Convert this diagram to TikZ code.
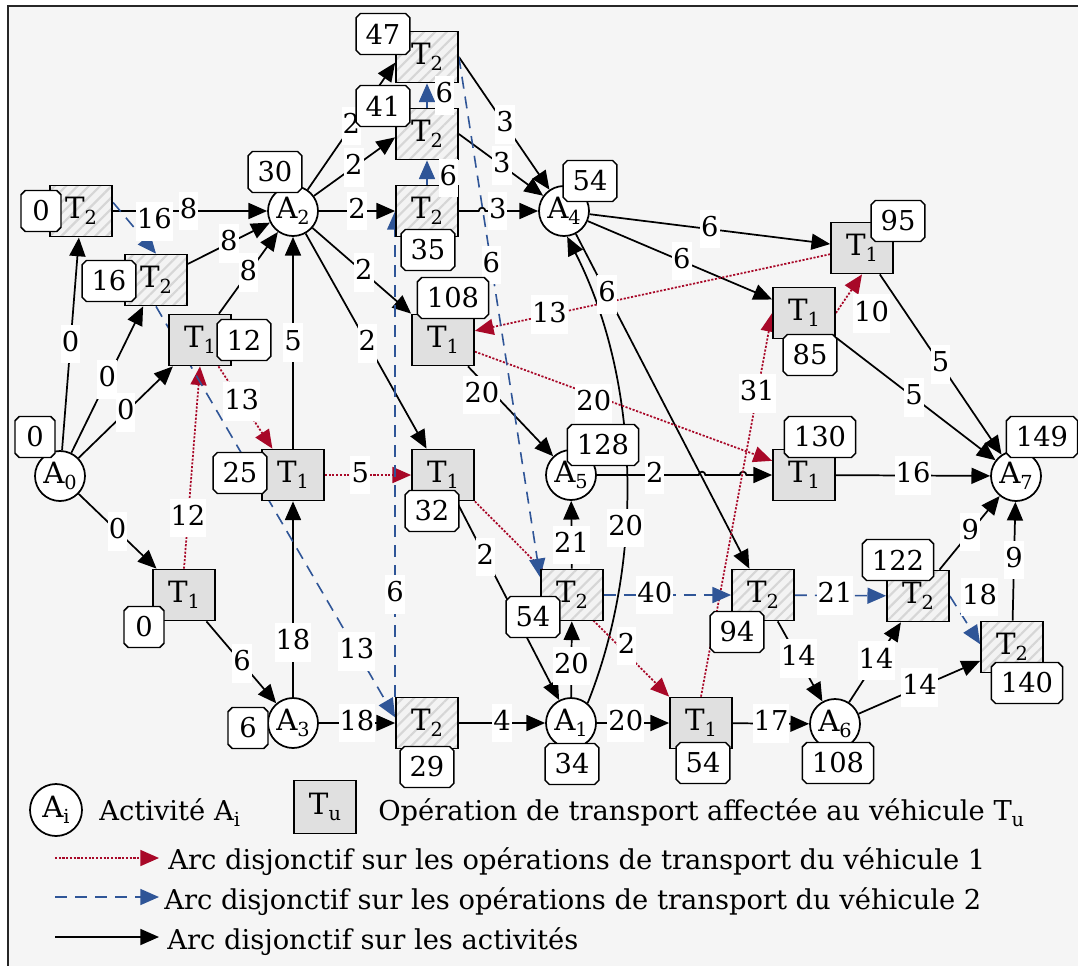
\documentclass[tikz,border=0pt]{standalone}
\usepackage{fontspec}
\setmainfont{DejaVu Serif}
\usetikzlibrary{arrows.meta,shapes.misc,patterns.meta,calc}
\definecolor{vred}{RGB}{168,8,40}
\definecolor{vblue}{RGB}{47,85,151}
\definecolor{bgc}{RGB}{245,245,245}
\definecolor{tonefill}{RGB}{224,224,224}
\definecolor{ttwofill}{RGB}{243,243,243}
\definecolor{ttwoline}{RGB}{214,214,214}
\pgfdeclarelayer{back}
\pgfdeclarelayer{edges}
\pgfsetlayers{back,edges,main}
\newcommand\mainfs{\fontsize{20.5}{25}\selectfont}
\newcommand\bigfs{\fontsize{22}{26}\selectfont}
\newcommand\sbs[1]{\raisebox{-0.22em}{\fontsize{14.5}{14}\selectfont #1}}
\newcommand\tedge[6]{%
  \begin{pgfonlayer}{edges}\draw[#1] (#2) -- (#3);\end{pgfonlayer}%
  \path (#2) -- (#3) node[lab,pos=#4,#6]{#5};}
\tikzset{
  every node/.style={font=\mainfs},
  tip/.style={-{Triangle[length=14pt,width=12pt]}},
  act/.style={line width=1.3pt, tip},
  vehone/.style={vred, line width=1.3pt, dash pattern=on 1.6pt off 1.2pt, tip},
  vehtwo/.style={vblue, line width=1.2pt, dash pattern=on 9pt off 6pt, tip},
  actnode/.style={circle, draw, line width=1.3pt, fill=white, minimum size=37.5pt, inner sep=0pt, font=\bigfs},
  tone/.style={rectangle, draw, line width=1.3pt, fill=tonefill, minimum width=46.5pt, minimum height=38.25pt, inner sep=0pt, font=\bigfs},
  ttwo/.style={rectangle, draw, line width=1.3pt, preaction={fill=ttwofill}, pattern={Lines[angle=45,distance=6pt,line width=1.6pt]}, pattern color=ttwoline, minimum width=46.5pt, minimum height=38.25pt, inner sep=0pt, font=\bigfs},
  val/.style={chamfered rectangle, chamfered rectangle xsep=1.6pt, chamfered rectangle ysep=1.6pt, draw, line width=1.1pt, fill=white, minimum height=30.75pt, minimum width=30pt, inner xsep=5.5pt, inner ysep=0pt},
  lab/.style={fill=white, inner xsep=0.8pt, inner ysep=4pt, text height=16pt, text depth=5pt},
  legtext/.style={anchor=base west, inner sep=0pt},
}
\begin{document}
\begin{tikzpicture}[x=0.75pt,y=-0.75pt]
\useasboundingbox (0,0) rectangle (1078,965);
\begin{pgfonlayer}{back}
\fill[white] (0,0) rectangle (1078,965);
\begin{scope}
\clip (0,0) rectangle (1078,965);
\draw[fill=bgc, draw=black!85, line width=1.3pt] (8,6) rectangle (1095,985);
\end{scope}
\end{pgfonlayer}

% activity nodes
\node[actnode] (A0) at (60,476) {A\sbs{0}};
\node[actnode] (A2) at (293,211) {A\sbs{2}};
\node[actnode] (A3) at (293,723) {A\sbs{3}};
\node[actnode] (A4) at (564,211) {A\sbs{4}};
\node[actnode] (A5) at (571,475) {A\sbs{5}};
\node[actnode] (A1) at (571,723) {A\sbs{1}};
\node[actnode] (A6) at (835,724) {A\sbs{6}};
\node[actnode] (A7) at (1016,476) {A\sbs{7}};
% transport nodes
\node[ttwo] (t0) at (81,211) {T\sbs{2}};
\node[ttwo] (t16) at (156,280) {T\sbs{2}};
\node[tone] (t12) at (200,340) {T\sbs{1}};
\node[tone] (t25) at (293,475) {T\sbs{1}};
\node[tone] (t0b) at (184,595) {T\sbs{1}};
\node[ttwo] (t29) at (427,723) {T\sbs{2}};
\node[ttwo] (t47) at (427,57) {T\sbs{2}};
\node[ttwo] (t41) at (427,134) {T\sbs{2}};
\node[ttwo] (t35) at (427,211) {T\sbs{2}};
\node[tone] (t108) at (443,340) {T\sbs{1}};
\node[tone] (t32) at (443,475) {T\sbs{1}};
\node[ttwo] (t54b) at (572,595) {T\sbs{2}};
\node[tone] (t54) at (701,723) {T\sbs{1}};
\node[ttwo] (t94) at (763,595) {T\sbs{2}};
\node[ttwo] (t122) at (918,596) {T\sbs{2}};
\node[ttwo] (t140) at (1012,647) {T\sbs{2}};
\node[tone] (t95) at (862,248) {T\sbs{1}};
\node[tone] (t85) at (804,313) {T\sbs{1}};
\node[tone] (t130) at (804,475) {T\sbs{1}};

% activity arcs
\tedge{act}{A0}{t0}{.5}{0}{}
\tedge{act}{A0}{t16}{.5}{0}{}
\tedge{act}{A0}{t12}{.5}{0}{}
\tedge{act}{A0}{t0b}{.5}{0}{}
\tedge{act}{t0}{A2}{.49}{8}{}
\tedge{act}{t16}{A2}{.5}{8}{}
\tedge{act}{t12}{A2}{.5}{8}{}
\tedge{act}{t25}{A2}{.5}{5}{}
\tedge{act}{A3}{t25}{.28}{18}{}
\tedge{act}{t0b}{A3}{.51}{6}{}
\tedge{act}{A3}{t29}{.5}{18}{}
\tedge{act}{t29}{A1}{.5}{4}{}
\tedge{act}{A1}{t54}{.4}{20}{}
\tedge{act}{t54}{A6}{.5}{17}{}
\tedge{act}{A6}{t122}{.52}{14}{}
\tedge{act}{A6}{t140}{.5}{14}{}
\tedge{act}{t94}{A6}{.46}{14}{}
\tedge{act}{t122}{A7}{.51}{9}{}
\tedge{act}{t140}{A7}{.51}{9}{}
\tedge{act}{t130}{A7}{.5}{16}{}
\tedge{act}{t95}{A7}{.5}{5}{}
\tedge{act}{t85}{A7}{.49}{5}{}
\tedge{act}{A4}{t95}{.5}{6}{}
\tedge{act}{A4}{t85}{.51}{6}{}
\tedge{act}{A4}{t94}{.18}{6}{}
\tedge{act}{t54b}{A5}{.35}{21}{}
\tedge{act}{A1}{t54b}{.41}{20}{}
\tedge{act}{t32}{A1}{.28}{2}{}
\tedge{act}{t108}{A5}{.32}{20}{xshift=-10pt}
\tedge{act}{t47.east}{A4}{.51}{3}{}
\tedge{act}{t41.east}{A4}{.51}{3}{}
\tedge{act}{A2}{t47.190}{.5}{2}{}
\tedge{act}{A2}{t41.186}{.49}{2}{}
\tedge{act}{A2}{t35}{.5}{2}{}
\tedge{act}{A2}{t108.north west}{.52}{2}{}
\tedge{act}{A2}{t32.122}{.51}{2}{}
\begin{pgfonlayer}{edges}
\draw[act] (t35.east) -- (478.7,211) arc[start angle=180,end angle=0,radius=2.5pt] -- (A4.west);
\draw[act] (A5.east) -- (698.7,475) arc[start angle=180,end angle=0,radius=2.5pt] -- (739.7,475) arc[start angle=180,end angle=0,radius=2.5pt] -- (t130.west);
\draw[act] (A1.50) .. controls (645,560) and (640,380) .. (A4.-83);
\end{pgfonlayer}
\path (t35.east) -- (A4.west) node[lab,pos=.49]{3};
\path (A5.east) -- (t130.west) node[lab,pos=.33]{2};
\path (A1.50) .. controls (645,560) and (640,380) .. (A4.-83) node[lab,pos=.38]{20};

% vehicle 1
\tedge{vehone}{t0b.north}{t12.south}{.25}{12}{}
\tedge{vehone}{t12.-55}{t25.128}{.43}{13}{}
\tedge{vehone}{t25}{t32}{.41}{5}{}
\tedge{vehone}{t32.south east}{t54.north west}{.74}{2}{xshift=6pt}
\tedge{vehone}{t54.north}{t85.west}{.79}{31}{}
\tedge{vehone}{t85.east}{t95.south}{.5}{10}{xshift=17pt,yshift=-15pt}
\tedge{vehone}{t95.191}{t108.16}{.79}{13}{}
\tedge{vehone}{t108.-20}{t130.156}{.4}{20}{yshift=-6pt}

% vehicle 2
\tedge{vehtwo}{t0.15}{t16.north}{.37}{16}{xshift=19pt}
\tedge{vehtwo}{t16.south}{t29.170}{.84}{13}{}
\tedge{vehtwo}{t29.north west}{t35.west}{.21}{6}{}
\tedge{vehtwo}{t35.north}{t41.south}{.5}{6}{xshift=16pt,yshift=-4pt}
\tedge{vehtwo}{t41.north}{t47.south}{.5}{6}{xshift=13pt}
\tedge{vehtwo}{t47.east}{t54b.151}{.4}{6}{}
\tedge{vehtwo}{t54b}{t94}{.4}{40}{}
\tedge{vehtwo}{t94}{t122}{.44}{21}{}
\tedge{vehtwo}{t122.east}{t140.175}{.1}{18}{xshift=20pt,yshift=3pt}

% value boxes
\node[val] (vA0) at (35,437) {0};
\node[val] (vA2) at (275,172) {30};
\node[val] (vA3) at (248,728) {6};
\node[val] (vA4) at (590,181) {54};
\node[val] (vA5) at (603,445) {128};
\node[val] (vA1) at (572,764) {34};
\node[val] (vA6) at (838,763) {108};
\node[val] (vA7) at (1042,437) {149};
\node[val] (vt0) at (41,211) {0};
\node[val] (vt16) at (109,281) {16};
\node[val] (vt12) at (244,340) {12};
\node[val] (vt25) at (240,473) {25};
\node[val] (vt0b) at (144,627) {0};
\node[val] (vt29) at (427,767) {29};
\node[val] (vt47) at (383,34) {47};
\node[val] (vt41) at (383,106) {41};
\node[val] (vt35) at (428,250) {35};
\node[val] (vt108) at (453,298) {108};
\node[val] (vt32) at (432,511) {32};
\node[val] (vt54b) at (533,617) {54};
\node[val] (vt54) at (703,763) {54};
\node[val] (vt94) at (737,632) {94};
\node[val] (vt122) at (898,560) {122};
\node[val] (vt140) at (1027,683) {140};
\node[val] (vt95) at (898,221) {95};
\node[val] (vt85) at (810,355) {85};
\node[val] (vt130) at (820,437) {130};

% legend
\node[actnode, minimum size=39pt] (lgA) at (56,810) {A\sbs{i}};
\node[legtext] (lgAt) at (99,820) {Activité A\sbs{i}};
\node[tone, minimum height=39.75pt] (lgT) at (325,807) {T\sbs{u}};
\node[legtext] (lgTt) at (378,820) {Opération de transport affectée au véhicule T\sbs{u}};
\coordinate (la) at (55,858); \coordinate (lb) at (159,858);
\coordinate (lc) at (55,897); \coordinate (ld) at (159,897);
\coordinate (le) at (55,937); \coordinate (lf) at (159,937);
\draw[vehone] (la) -- (lb);
\draw[vehtwo] (lc) -- (ld);
\draw[act] (le) -- (lf);
\node[legtext] (lt1) at (168,869) {Arc disjonctif sur les opérations de transport du véhicule 1};
\node[legtext] (lt2) at (164,909) {Arc disjonctif sur les opérations de transport du véhicule 2};
\node[legtext] (lt3) at (167,949) {Arc disjonctif sur les activités};
\end{tikzpicture}
\end{document}
